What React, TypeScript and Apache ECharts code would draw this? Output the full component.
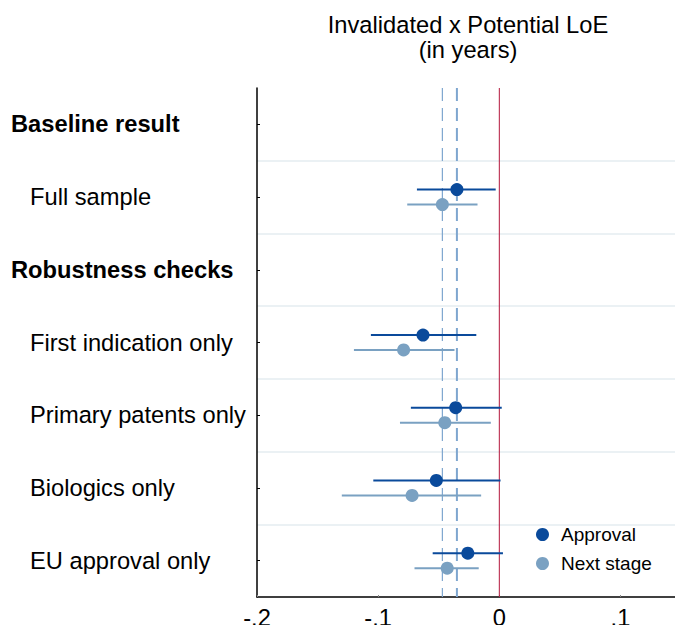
import React, { useEffect, useRef } from "react";
import * as echarts from "echarts";

const rowLabels = [
  "Baseline result",
  "Full sample",
  "Robustness checks",
  "First indication only",
  "Primary patents only",
  "Biologics only",
  "EU approval only",
];
const headerRows = ["Baseline result", "Robustness checks"];
const estRows = [
  "Full sample",
  "First indication only",
  "Primary patents only",
  "Biologics only",
  "EU approval only",
];
const approvalEst = [-0.035, -0.063, -0.036, -0.052, -0.026];
const approvalLo = [-0.068, -0.106, -0.073, -0.104, -0.055];
const approvalHi = [-0.003, -0.019, 0.002, 0.001, 0.003];
const nextEst = [-0.047, -0.079, -0.045, -0.072, -0.043];
const nextLo = [-0.076, -0.12, -0.082, -0.13, -0.07];
const nextHi = [-0.018, -0.037, -0.007, -0.015, -0.017];
const xTicks = [-0.2, -0.1, 0, 0.1];
const xTickLabels = ["-.2", "-.1", "0", ".1"];
const seriesNames = ["Approval", "Next stage"];
const titleText = "Invalidated x Potential LoE\n(in years)";

const FONT = '"Liberation Sans", Arial, Helvetica, sans-serif';
const DARK = "#0a4a9b";
const LIGHT = "#7aa1c2";
const DASH = "#7ea6cf";
const ZERO = "#b3173b";
const FS = 23.7;

export default function App() {
  const ref = useRef<HTMLDivElement>(null);
  useEffect(() => {
    const chart = echarts.init(ref.current!, null, { renderer: "svg" });
    const rowPos = (name: string) => rowLabels.indexOf(name) + 1;
    const off = 0.103;
    const apprPts = estRows.map((r, i) => [approvalEst[i], rowPos(r) - off]);
    const nextPts = estRows.map((r, i) => [nextEst[i], rowPos(r) + off]);
    const apprCI = estRows.map((r, i) => [approvalLo[i], approvalHi[i], rowPos(r) - off]);
    const nextCI = estRows.map((r, i) => [nextLo[i], nextHi[i], rowPos(r) + off]);
    const refLines = [
      [0, 0],
      [nextEst[0], 1],
      [approvalEst[0], 2],
    ];
    const refStyles: any[] = [
      { stroke: ZERO, lineWidth: 1 },
      { stroke: DASH, lineWidth: 1.2, lineDash: [13, 7] },
      { stroke: DASH, lineWidth: 2, lineDash: [13, 7] },
    ];

    const ciSeries = (name: string, data: number[][], color: string) => ({
      type: "custom",
      name,
      xAxisIndex: 0,
      yAxisIndex: 0,
      silent: true,
      z: 3,
      data,
      encode: { x: [0, 1], y: 2 },
      renderItem: (_p: any, api: any) => {
        const a = api.coord([api.value(0), api.value(2)]);
        const b = api.coord([api.value(1), api.value(2)]);
        return {
          type: "line",
          shape: { x1: a[0], y1: a[1], x2: b[0], y2: b[1] },
          style: { stroke: color, lineWidth: 2 },
        };
      },
    });

    chart.setOption({
      animation: false,
      backgroundColor: "#ffffff",
      textStyle: { fontFamily: FONT },
      grid: {
        left: 257,
        right: 0,
        top: 88,
        bottom: 28,
        containLabel: false,
        outerBoundsMode: "none",
      },
      graphic: [
        {
          type: "text",
          x: 468,
          y: 12,
          style: {
            text: titleText,
            fontSize: FS,
            fontFamily: FONT,
            lineHeight: 25,
            fill: "#000",
            align: "center",
            textAlign: "center",
            verticalAlign: "top",
          },
        },
      ],
      legend: {
        data: seriesNames,
        orient: "vertical",
        left: 531,
        top: 520,
        itemWidth: 27,
        itemHeight: 13,
        itemGap: 10,
        icon: "circle",
        textStyle: { fontSize: 19, fontFamily: FONT, color: "#000" },
      },
      xAxis: {
        type: "value",
        min: -0.2,
        max: 0.145,
        interval: 0.1,
        axisLine: { show: true, onZero: false, lineStyle: { color: "#000", width: 1.5 } },
        axisTick: { show: true, inside: true, length: 2, lineStyle: { color: "#888" } },
        splitLine: { show: false },
        axisLabel: {
          showMaxLabel: false,
          fontSize: FS,
          fontFamily: FONT,
          color: "#000",
          margin: 9,
          formatter: (v: number) => {
            const i = xTicks.findIndex((t) => Math.abs(t - v) < 1e-9);
            return i >= 0 ? xTickLabels[i] : "";
          },
        },
      },
      yAxis: [
        {
          type: "value",
          min: 0.5,
          max: 7.5,
          interval: 1,
          inverse: true,
          position: "left",
          axisLine: { show: true, onZero: false, lineStyle: { color: "#000", width: 1.5 } },
          axisTick: { show: false },
          axisLabel: { show: false },
          splitLine: {
            show: true,
            showMinLine: false,
            showMaxLine: false,
            lineStyle: { color: "#ebf1f4", width: 2 },
          },
        },
        {
          type: "category",
          data: rowLabels,
          inverse: true,
          position: "left",
          axisLine: { show: false, onZero: false },
          axisTick: {
            show: true,
            inside: true,
            alignWithLabel: true,
            length: 3,
            lineStyle: { color: "#000" },
          },
          splitLine: { show: false },
          axisLabel: {
            margin: 246,
            align: "left",
            formatter: (v: string) =>
              headerRows.includes(v) ? `{h|${v}}` : `{n|${v}}`,
            rich: {
              h: { fontSize: FS, fontWeight: "bold", fontFamily: FONT, color: "#000" },
              n: {
                fontSize: FS,
                fontFamily: FONT,
                color: "#000",
                padding: [0, 0, 0, 19],
              },
            },
          },
        },
      ],
      series: [
        {
          type: "custom",
          name: "refs",
          xAxisIndex: 0,
          yAxisIndex: 0,
          silent: true,
          z: 1,
          data: refLines,
          encode: { x: 0 },
          renderItem: (_p: any, api: any) => {
            const x = api.value(0);
            const a = api.coord([x, 0.5]);
            const b = api.coord([x, 7.5]);
            return {
              type: "line",
              shape: { x1: a[0], y1: a[1], x2: b[0], y2: b[1] },
              style: refStyles[api.value(1)],
            };
          },
        },
        ciSeries("ciApproval", apprCI, DARK),
        ciSeries("ciNext", nextCI, LIGHT),
        {
          type: "scatter",
          name: seriesNames[0],
          xAxisIndex: 0,
          yAxisIndex: 0,
          data: apprPts,
          symbol: "circle",
          symbolSize: 13,
          itemStyle: { color: DARK, opacity: 1 },
          z: 5,
        },
        {
          type: "scatter",
          name: seriesNames[1],
          xAxisIndex: 0,
          yAxisIndex: 0,
          data: nextPts,
          symbol: "circle",
          symbolSize: 13,
          itemStyle: { color: LIGHT, opacity: 1 },
          z: 5,
        },
      ],
    });
    return () => chart.dispose();
  }, []);
  return (
    <div
      ref={ref}
      style={{ position: "fixed", left: 0, top: 0, width: 675, height: 625, background: "#fff" }}
    />
  );
}
